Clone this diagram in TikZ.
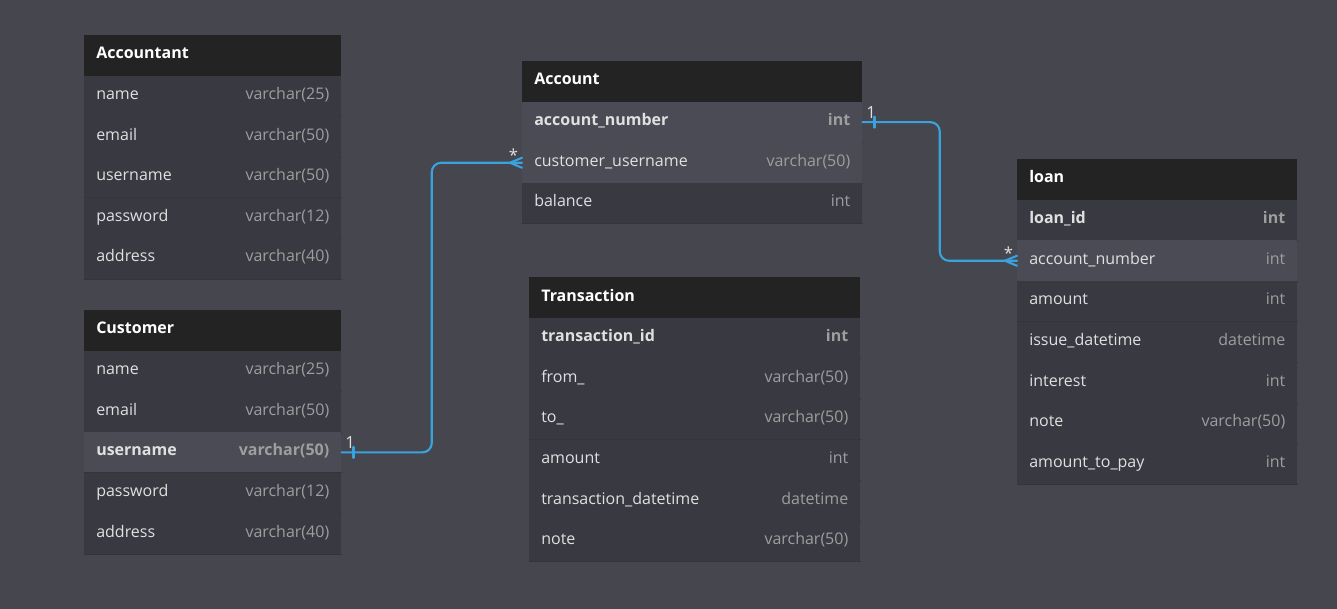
\documentclass[tikz,border=0pt]{standalone}
\usepackage{fontspec}
\setmainfont{Open Sans}
\usetikzlibrary{calc}
\definecolor{bgc}{HTML}{45464E}
\definecolor{hdrc}{HTML}{232323}
\definecolor{rowc}{HTML}{383941}
\definecolor{hlc}{HTML}{4A4B54}
\definecolor{sepc}{HTML}{34353C}
\definecolor{fieldc}{HTML}{E0E0E0}
\definecolor{typec}{HTML}{9E9E9E}
\definecolor{relc}{HTML}{3AA2DD}
\tikzset{
  hdrbox/.style={anchor=north west, rectangle, inner sep=0pt, minimum height=40.6*0.75pt, fill=hdrc, draw=none},
  rowbox/.style={anchor=north west, rectangle, inner sep=0pt, minimum height=40.6*0.75pt, draw=none},
  hdrtext/.style={anchor=base west, inner sep=0pt, text=white, font=\fontsize{12}{14}\selectfont\bfseries},
  fieldtext/.style={anchor=base west, inner sep=0pt, text=fieldc, font=\fontsize{12}{14}\selectfont},
  typetext/.style={anchor=base east, inner sep=0pt, text=typec, font=\fontsize{12}{14}\selectfont},
  sepline/.style={draw=sepc, line width=0.75pt},
  rel/.style={draw=relc, line width=1.6pt, line cap=round, line join=round},
  card/.style={inner sep=0pt, text=fieldc, font=\fontsize{12.5}{14}\selectfont}
}
% name, x, top y, width, title
\newcommand{\erhdr}[5]{%
  \node[hdrbox, minimum width=#4*0.75pt] (#1) at (#2,#3) {};
  \node[hdrtext] (#1-t) at ($(#1.north west)+(12,24)$) {#5};
}
% name, x, top y, width, index, fill, field, type
\newcommand{\errow}[8]{%
  \node[rowbox, fill=#6, minimum width=#4*0.75pt] (#1) at ({#2},{#3+40.6*#5}) {};
  \draw[sepline] (#1.south west) -- (#1.south east);
  \node[fieldtext] (#1-f) at ($(#1.north west)+(12,24)$) {#7};
  \node[typetext] (#1-y) at ($(#1.north east)+(-12,24)$) {#8};
}
\begin{document}
\begin{tikzpicture}[x=0.75pt,y=-0.75pt]
\fill[bgc] (0,0) rectangle (1337,609);
\useasboundingbox (0,0) rectangle (1337,609);

% Accountant
\erhdr{at}{84}{35}{257}{Accountant}
\errow{at-name}{84}{35}{257}{1}{rowc}{name}{varchar(25)}
\errow{at-email}{84}{35}{257}{2}{rowc}{email}{varchar(50)}
\errow{at-user}{84}{35}{257}{3}{rowc}{username}{varchar(50)}
\errow{at-pass}{84}{35}{257}{4}{rowc}{password}{varchar(12)}
\errow{at-addr}{84}{35}{257}{5}{rowc}{address}{varchar(40)}

% Customer
\erhdr{cu}{84}{310}{257}{Customer}
\errow{cu-name}{84}{310}{257}{1}{rowc}{name}{varchar(25)}
\errow{cu-email}{84}{310}{257}{2}{rowc}{email}{varchar(50)}
\errow{cu-user}{84}{310}{257}{3}{hlc}{\bfseries username}{\bfseries varchar(50)}
\errow{cu-pass}{84}{310}{257}{4}{rowc}{password}{varchar(12)}
\errow{cu-addr}{84}{310}{257}{5}{rowc}{address}{varchar(40)}

% Account
\erhdr{ac}{522}{61}{340}{Account}
\errow{ac-num}{522}{61}{340}{1}{hlc}{\bfseries account\_number}{\bfseries int}
\errow{ac-cu}{522}{61}{340}{2}{hlc}{customer\_username}{varchar(50)}
\errow{ac-bal}{522}{61}{340}{3}{rowc}{balance}{int}

% Transaction
\erhdr{tr}{529}{277}{331}{Transaction}
\errow{tr-id}{529}{277}{331}{1}{rowc}{\bfseries transaction\_id}{\bfseries int}
\errow{tr-from}{529}{277}{331}{2}{rowc}{from\_}{varchar(50)}
\errow{tr-to}{529}{277}{331}{3}{rowc}{to\_}{varchar(50)}
\errow{tr-amt}{529}{277}{331}{4}{rowc}{amount}{int}
\errow{tr-dt}{529}{277}{331}{5}{rowc}{transaction\_datetime}{datetime}
\errow{tr-note}{529}{277}{331}{6}{rowc}{note}{varchar(50)}

% loan
\erhdr{lo}{1017}{159}{280}{loan}
\errow{lo-id}{1017}{159}{280}{1}{rowc}{\bfseries loan\_id}{\bfseries int}
\errow{lo-acc}{1017}{159}{280}{2}{hlc}{account\_number}{int}
\errow{lo-amt}{1017}{159}{280}{3}{rowc}{amount}{int}
\errow{lo-dt}{1017}{159}{280}{4}{rowc}{issue\_datetime}{datetime}
\errow{lo-int}{1017}{159}{280}{5}{rowc}{interest}{int}
\errow{lo-note}{1017}{159}{280}{6}{rowc}{note}{varchar(50)}
\errow{lo-pay}{1017}{159}{280}{7}{rowc}{amount\_to\_pay}{int}

% Relation Customer.username 1 -- * Account.customer_username
\draw[rel, rounded corners=7pt] (cu-user.east) -| ($(cu-user.east)!0.5!(ac-cu.west)$) |- (ac-cu.west);
\draw[rel] ($(cu-user.east)+(12,-5.5)$) -- ($(cu-user.east)+(12,5.5)$);
\draw[rel] ($(ac-cu.west)+(0,-5)$) -- ($(ac-cu.west)+(-12,0)$) -- ($(ac-cu.west)+(0,5)$);
\node[card] (c1a) at ($(cu-user.east)+(8.5,-10)$) {1};
\node[card] (c1b) at ($(ac-cu.west)+(-8.5,-8)$) {*};

% Relation Account.account_number 1 -- * loan.account_number
\draw[rel, rounded corners=7pt] (ac-num.east) -| ($(ac-num.east)!0.5!(lo-acc.west)$) |- (lo-acc.west);
\draw[rel] ($(ac-num.east)+(12,-5.5)$) -- ($(ac-num.east)+(12,5.5)$);
\draw[rel] ($(lo-acc.west)+(0,-5)$) -- ($(lo-acc.west)+(-12,0)$) -- ($(lo-acc.west)+(0,5)$);
\node[card] (c2a) at ($(ac-num.east)+(8.5,-10)$) {1};
\node[card] (c2b) at ($(lo-acc.west)+(-8.5,-8)$) {*};
\end{tikzpicture}
\end{document}
